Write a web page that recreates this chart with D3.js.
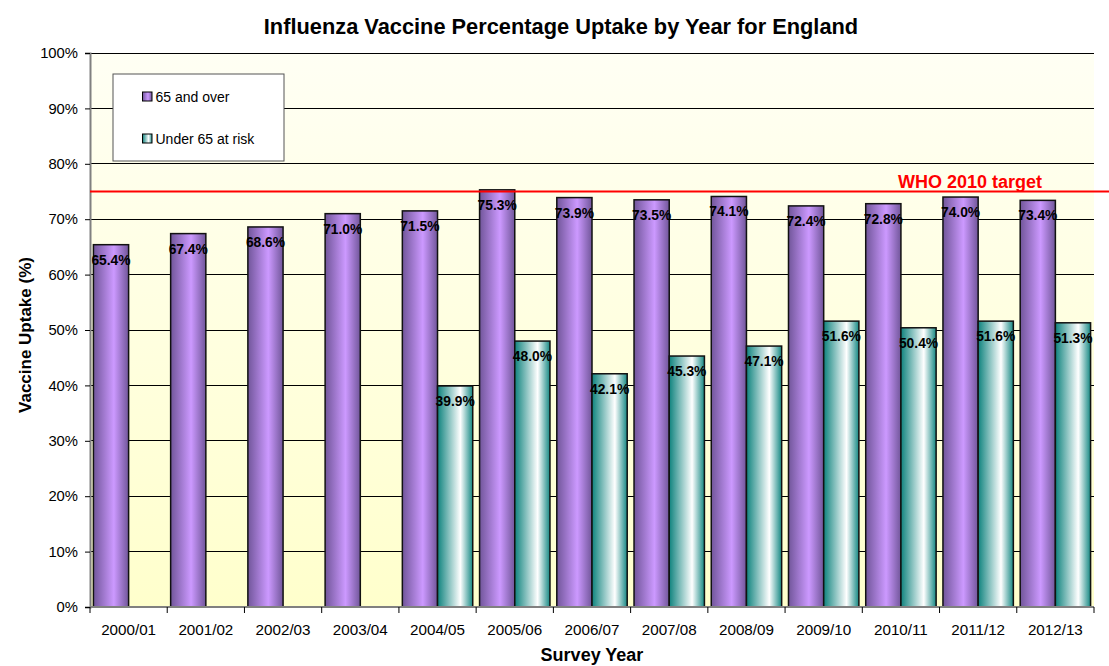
<!DOCTYPE html>
<html>
<head>
<meta charset="utf-8">
<script src="https://cdn.jsdelivr.net/npm/d3@7"></script>
<style>
  body { margin: 0; background: #fff; }
  svg { display: block; }
  svg text { font-family: Arial, "Liberation Sans", Helvetica, sans-serif; }
</style>
</head>
<body>
<svg id="chart" width="1109" height="666"></svg>
<script>
// ---- data ----
const years = ['2000/01','2001/02','2002/03','2003/04','2004/05','2005/06','2006/07',
               '2007/08','2008/09','2009/10','2010/11','2011/12','2012/13'];
const over65 = [65.4, 67.4, 68.6, 71.0, 71.5, 75.3, 73.9, 73.5, 74.1, 72.4, 72.8, 74.0, 73.4];
const under65 = [null, null, null, null, 39.9, 48.0, 42.1, 45.3, 47.1, 51.6, 50.4, 51.6, 51.3];
const seriesNames = ['65 and over', 'Under 65 at risk'];
const yTicks = [0, 10, 20, 30, 40, 50, 60, 70, 80, 90, 100];
const target = 75;

const W = 1109, H = 666;
const m = { left: 90, right: 1094, top: 53, bottom: 607 };

const svg = d3.select('#chart');
const defs = svg.append('defs');

// plot background: pale yellow, lighter towards the top
const bg = defs.append('linearGradient').attr('id', 'bg')
  .attr('x1', 0).attr('y1', 0).attr('x2', 0).attr('y2', 1);
bg.append('stop').attr('offset', '0%').attr('stop-color', '#fffff4');
bg.append('stop').attr('offset', '100%').attr('stop-color', '#ffffcc');

// cylinder-ish shading for the bars
const gPurple = defs.append('linearGradient').attr('id', 'gPurple')
  .attr('x1', 0).attr('y1', 0).attr('x2', 1).attr('y2', 0);
gPurple.append('stop').attr('offset', '0%').attr('stop-color', '#71569a');
gPurple.append('stop').attr('offset', '58%').attr('stop-color', '#cc99ff');
gPurple.append('stop').attr('offset', '100%').attr('stop-color', '#71569a');

const gTeal = defs.append('linearGradient').attr('id', 'gTeal')
  .attr('x1', 0).attr('y1', 0).attr('x2', 1).attr('y2', 0);
gTeal.append('stop').attr('offset', '0%').attr('stop-color', '#0f837e');
gTeal.append('stop').attr('offset', '65%').attr('stop-color', '#ffffff');
gTeal.append('stop').attr('offset', '100%').attr('stop-color', '#158883');

const fills = ['url(#gPurple)', 'url(#gTeal)'];

// ---- scales ----
const x = d3.scaleBand().domain(years).range([m.left, m.right]).paddingInner(0).paddingOuter(0);
const xs = d3.scaleBand().domain([0, 1]).range([0, x.bandwidth()]).paddingOuter(0.097).paddingInner(0);
const y = d3.scaleLinear().domain([0, 100]).range([m.bottom, m.top]);

svg.append('rect')
  .attr('x', m.left).attr('y', m.top)
  .attr('width', m.right - m.left).attr('height', m.bottom - m.top)
  .attr('fill', 'url(#bg)');

// gridlines
svg.append('g').selectAll('line')
  .data(yTicks.slice(1))
  .join('line')
    .attr('x1', m.left).attr('x2', m.right)
    .attr('y1', d => y(d)).attr('y2', d => y(d))
    .attr('stroke', '#000').attr('stroke-width', 1)
    .attr('shape-rendering', 'crispEdges');

// ---- bars ----
const rows = years.map((yr, i) => ({ yr, vals: [over65[i], under65[i]] }));
const groups = svg.append('g').selectAll('g')
  .data(rows)
  .join('g')
    .attr('transform', d => `translate(${x(d.yr)},0)`);

const barData = d => d.vals.map((v, s) => ({ v, s })).filter(b => b.v != null);

groups.selectAll('rect')
  .data(barData)
  .join('rect')
    .attr('x', b => xs(b.s))
    .attr('y', b => y(b.v))
    .attr('width', xs.bandwidth())
    .attr('height', b => y(0) - y(b.v))
    .attr('fill', b => fills[b.s])
    .attr('stroke', '#111')
    .attr('stroke-width', 1.5);

groups.selectAll('text')
  .data(barData)
  .join('text')
    .attr('x', b => xs(b.s) + xs.bandwidth() / 2)
    .attr('y', b => y(b.v) + 20)
    .attr('text-anchor', 'middle')
    .attr('font-size', 13.8)
    .attr('font-weight', 'bold')
    .attr('fill', '#000')
    .text(b => b.v.toFixed(1) + '%');

// ---- axes ----
const yAxis = svg.append('g')
  .attr('transform', `translate(${m.left},0)`)
  .call(d3.axisLeft(y).tickValues(yTicks).tickSize(5).tickPadding(7).tickFormat(d => d + '%'));
yAxis.attr('font-family', null).attr('font-size', null);
yAxis.select('.domain').attr('stroke', '#808080').attr('stroke-width', 2);
yAxis.selectAll('.tick line').attr('stroke', '#000');
yAxis.selectAll('.tick text').attr('font-size', 14.8).attr('fill', '#000');

const xAxis = svg.append('g').attr('transform', `translate(0,${m.bottom})`);
xAxis.append('line')
  .attr('x1', m.left).attr('x2', m.right)
  .attr('stroke', '#808080').attr('stroke-width', 2);
xAxis.selectAll('line.tk')
  .data(d3.range(years.length + 1))
  .join('line')
    .attr('class', 'tk')
    .attr('x1', i => m.left + i * x.step()).attr('x2', i => m.left + i * x.step())
    .attr('y1', 0).attr('y2', 6)
    .attr('stroke', '#000');
xAxis.selectAll('text')
  .data(years)
  .join('text')
    .attr('x', d => x(d) + x.bandwidth() / 2)
    .attr('y', 28)
    .attr('text-anchor', 'middle')
    .attr('font-size', 15.2)
    .text(d => d);

// ---- WHO target line ----
svg.append('line')
  .attr('x1', m.left).attr('x2', W)
  .attr('y1', y(target)).attr('y2', y(target))
  .attr('stroke', '#ff0000').attr('stroke-width', 2);
svg.append('text')
  .attr('x', 970).attr('y', y(target) - 3.5)
  .attr('text-anchor', 'middle')
  .attr('font-size', 18).attr('font-weight', 'bold')
  .attr('fill', '#ff0000')
  .text('WHO 2010 target');

// ---- legend ----
const lg = svg.append('g').attr('transform', 'translate(113,74)');
lg.append('rect')
  .attr('width', 171).attr('height', 87)
  .attr('fill', '#fff').attr('stroke', '#555').attr('stroke-width', 1);
seriesNames.forEach((name, i) => {
  const yy = 28 + i * 42;   // text baseline
  lg.append('rect')
    .attr('x', 29.5).attr('y', yy - 10).attr('width', 9.5).attr('height', 9)
    .attr('fill', fills[i]).attr('stroke', '#000');
  lg.append('text')
    .attr('x', 42.5).attr('y', yy)
    .attr('font-size', 14)
    .text(name);
});

// ---- titles ----
svg.append('text')
  .attr('x', 561).attr('y', 34)
  .attr('text-anchor', 'middle')
  .attr('font-size', 21.8).attr('font-weight', 'bold')
  .text('Influenza Vaccine Percentage Uptake by Year for England');

svg.append('text')
  .attr('transform', 'translate(31,335) rotate(-90)')
  .attr('text-anchor', 'middle')
  .attr('font-size', 17).attr('font-weight', 'bold')
  .text('Vaccine Uptake (%)');

svg.append('text')
  .attr('x', (m.left + m.right) / 2).attr('y', 661)
  .attr('text-anchor', 'middle')
  .attr('font-size', 18).attr('font-weight', 'bold')
  .text('Survey Year');
</script>
</body>
</html>
